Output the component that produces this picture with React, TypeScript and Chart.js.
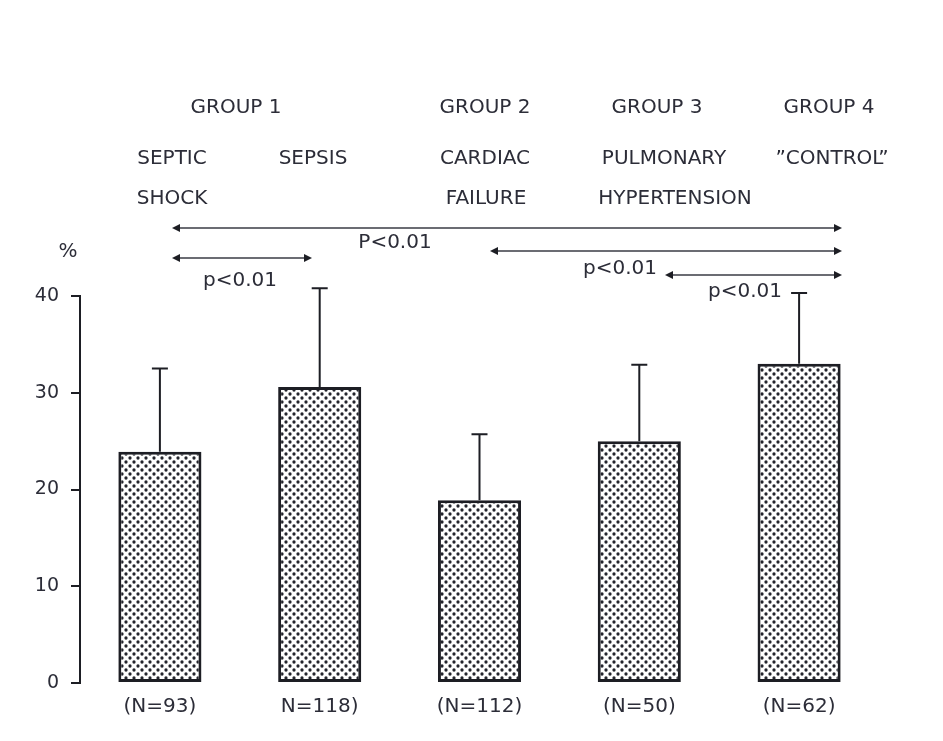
import React, { useEffect, useRef } from "react";
import { Chart, registerables } from "chart.js";

Chart.register(...registerables);

// ---------- data ----------
const categories = ["(N=93)", "N=118)", "(N=112)", "(N=50)", "(N=62)"];
const meanValues = [23.9, 30.6, 18.9, 25.0, 33.0];
const errorTops = [32.5, 40.8, 25.7, 32.9, 40.3];
const yTicks = [0, 10, 20, 30, 40];
const groupTitles = ["GROUP 1", "GROUP 2", "GROUP 3", "GROUP 4"];
const conditionLine1 = ["SEPTIC", "SEPSIS", "CARDIAC", "PULMONARY", "\u201DCONTROL\u201D"];
const conditionLine2 = ["SHOCK", "", "FAILURE", "HYPERTENSION", ""];
const comparisonLabels = ["P<0.01", "p<0.01", "p<0.01", "p<0.01"];
const unitLabel = "%";

// ---------- styles / layout ----------
const INK = "#1d1e24";
const TEXT = "#2c2d38";
const FONT_FAMILY = '"DejaVu Sans", "Liberation Sans", sans-serif';

const layoutGroupX = [236, 485, 657, 829];
const layoutLine1X = [172, 313, 485, 664, 832];
const layoutLine2X = [172, 0, 486, 675, 0];
const layoutRows = { group: 108, line1: 159, line2: 199 };
const layoutArrows = [
  { x1: 172, x2: 842, y: 228, lx: 395, ly: 243 },
  { x1: 172, x2: 312, y: 258, lx: 240, ly: 281 },
  { x1: 490, x2: 842, y: 251, lx: 620, ly: 269 },
  { x1: 665, x2: 842, y: 275, lx: 745, ly: 292 },
];
const layoutUnit = { x: 68, y: 252 };

function makeDotPattern(ctx: CanvasRenderingContext2D) {
  const s = 8;
  const c = document.createElement("canvas");
  c.width = s;
  c.height = s;
  const g = c.getContext("2d")!;
  g.fillStyle = "#ffffff";
  g.fillRect(0, 0, s, s);
  g.fillStyle = "#23242c";
  [
    [2, 2],
    [6, 6],
  ].forEach(([x, y]) => {
    g.beginPath();
    g.arc(x, y, 1.65, 0, Math.PI * 2);
    g.fill();
  });
  return ctx.createPattern(c, "repeat")!;
}

const errorBarPlugin = {
  id: "errorBars",
  afterDatasetsDraw(chart: any) {
    const ctx = chart.ctx as CanvasRenderingContext2D;
    const meta = chart.getDatasetMeta(0);
    const y = chart.scales.y;
    ctx.save();
    ctx.strokeStyle = INK;
    ctx.lineWidth = 2;
    meta.data.forEach((bar: any, i: number) => {
      const top = y.getPixelForValue(errorTops[i]);
      ctx.beginPath();
      ctx.moveTo(bar.x, bar.y);
      ctx.lineTo(bar.x, top);
      ctx.moveTo(bar.x - 8, top);
      ctx.lineTo(bar.x + 8, top);
      ctx.stroke();
    });
    ctx.restore();
  },
};

function arrowHead(ctx: CanvasRenderingContext2D, x: number, y: number, dir: number) {
  ctx.beginPath();
  ctx.moveTo(x, y);
  ctx.lineTo(x - dir * 8, y - 4);
  ctx.lineTo(x - dir * 8, y + 4);
  ctx.closePath();
  ctx.fill();
}

const annotationPlugin = {
  id: "annotations",
  afterDraw(chart: any) {
    const ctx = chart.ctx as CanvasRenderingContext2D;
    ctx.save();
    ctx.fillStyle = TEXT;
    ctx.font = `20px ${FONT_FAMILY}`;
    ctx.textAlign = "center";
    ctx.textBaseline = "middle";
    groupTitles.forEach((t, i) => ctx.fillText(t, layoutGroupX[i], layoutRows.group));
    conditionLine1.forEach((t, i) => t && ctx.fillText(t, layoutLine1X[i], layoutRows.line1));
    conditionLine2.forEach((t, i) => t && ctx.fillText(t, layoutLine2X[i], layoutRows.line2));
    ctx.fillText(unitLabel, layoutUnit.x, layoutUnit.y);

    ctx.strokeStyle = "#3a3b45";
    ctx.lineWidth = 1.6;
    layoutArrows.forEach((a, i) => {
      ctx.beginPath();
      ctx.moveTo(a.x1 + 4, a.y);
      ctx.lineTo(a.x2 - 4, a.y);
      ctx.stroke();
      ctx.fillStyle = INK;
      arrowHead(ctx, a.x1, a.y, -1);
      arrowHead(ctx, a.x2, a.y, 1);
      ctx.fillStyle = TEXT;
      ctx.fillText(comparisonLabels[i], a.lx, a.ly);
    });
    ctx.restore();
  },
};

export default function App() {
  const ref = useRef<HTMLCanvasElement>(null);
  useEffect(() => {
    document.body.style.margin = "0";
    const canvas = ref.current!;
    const ctx = canvas.getContext("2d")!;
    const pattern = makeDotPattern(ctx);
    const font = { family: FONT_FAMILY, size: 20 };
    const chart = new Chart(canvas, {
      type: "bar",
      data: {
        labels: categories,
        datasets: [
          {
            data: meanValues,
            backgroundColor: pattern as any,
            borderColor: INK,
            borderWidth: 3,
            borderSkipped: false,
            barPercentage: 0.52,
            categoryPercentage: 1,
          },
        ],
      },
      options: {
        responsive: false,
        animation: false,
        devicePixelRatio: 1,
        layout: { padding: { top: 296, right: 64, left: 0, bottom: 0 } },
        plugins: { legend: { display: false }, tooltip: { enabled: false } },
        scales: {
          x: {
            grid: { display: false, drawTicks: false },
            border: { display: false },
            ticks: { font, color: TEXT, padding: 12 },
            afterFit(s: any) {
              s.height = 58;
            },
          },
          y: {
            min: 0,
            max: 40,
            afterBuildTicks(s: any) {
              s.ticks = yTicks.map((v) => ({ value: v }));
            },
            ticks: { font: { family: FONT_FAMILY, size: 19 }, color: TEXT, padding: 12 },
            grid: { drawOnChartArea: false, drawTicks: true, tickLength: 9, color: INK, lineWidth: 2 },
            border: { display: true, color: INK, width: 2 },
            afterFit(s: any) {
              s.width = 80;
            },
          },
        },
      },
      plugins: [errorBarPlugin, annotationPlugin],
    });
    return () => chart.destroy();
  }, []);
  return <canvas ref={ref} width={943} height={741} style={{ display: "block" }} />;
}
